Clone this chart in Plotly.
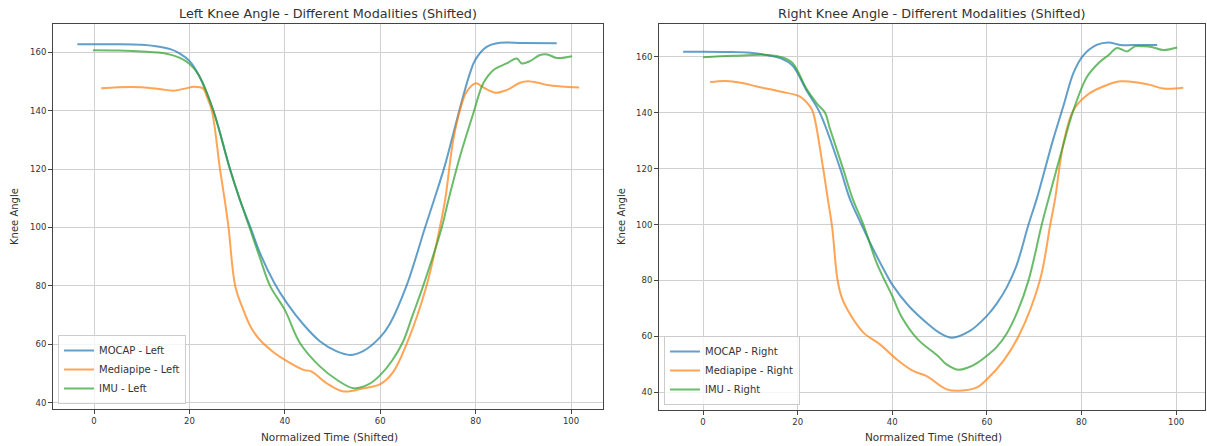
import plotly.graph_objects as go

# ---------------- Data ----------------
left_mocap_x = [-3.5, 0, 5, 10, 13, 16, 18, 20, 22, 25, 28.5, 30.6, 32.8, 34.8, 37.8, 40.4, 43.9, 47.4, 50.9, 53.7, 56.5, 60, 62, 65.5, 69.4, 71.5, 73.6, 75.3, 77.4, 78.8, 79.9, 82.3, 85.1, 90, 97]
left_mocap_y = [162.7, 162.7, 162.7, 162.5, 162, 161, 159.5, 157, 152, 140, 120, 109.4, 100, 91.2, 81, 74.2, 66.8, 61, 57.6, 56.4, 57.8, 62.5, 67, 80, 100, 110.5, 121.5, 132, 145, 152.7, 157.3, 161.8, 163.2, 163.1, 163]

left_mp_x = [1.5, 5, 10, 14, 16.6, 19, 21, 22.9, 23.6, 24.7, 26.4, 27.4, 28.2, 29.6, 31.3, 33, 34.8, 37.5, 40, 43.9, 45.6, 48.8, 52.3, 56.5, 60, 62.7, 65.5, 69.7, 72.5, 73.6, 75.3, 76.7, 78.1, 80.1, 81.6, 84.1, 86.5, 89.3, 91, 93.5, 95, 98, 101.7]
left_mp_y = [147.6, 148, 148, 147.3, 146.8, 147.5, 148.1, 147.5, 145, 140, 120, 109.4, 100, 80, 71.8, 65.5, 61.5, 57.5, 54.7, 51.3, 50.7, 46.7, 43.9, 45, 46.4, 50.5, 60, 80, 100, 109.4, 129.9, 140, 146.4, 149.3, 147.9, 146.1, 147, 149.5, 150, 149.3, 148.7, 148.2, 147.9]

left_imu_x = [-0.2, 5, 10, 15, 18, 20, 22, 25, 28.5, 30.6, 32.6, 34.8, 36.9, 40, 43.2, 47.4, 50.9, 54.4, 57.5, 60, 62.5, 64.8, 66.8, 69, 72.9, 74.3, 76.7, 79.5, 81.6, 83.7, 86.5, 88.6, 89.7, 91.5, 93.5, 95, 97, 100.2]
left_imu_y = [160.6, 160.5, 160.2, 159.5, 158, 156, 152, 140, 120, 109.4, 100, 89.5, 80, 71.8, 60.4, 52.4, 47.9, 45, 46.3, 49.5, 54.5, 61, 70, 80, 100, 109.4, 124.2, 139, 149.3, 153.8, 156.1, 157.8, 156.1, 157, 159, 159.2, 158, 158.6]

right_mocap_x = [-4.2, 0, 5, 10, 14, 16.7, 18.8, 19.8, 21.9, 24.7, 29, 31.1, 33.5, 35.3, 38.8, 40, 43.4, 47.6, 50, 52.6, 56.4, 60, 62, 64.2, 66.2, 68.8, 70.5, 74, 76.2, 78.3, 80.3, 83.2, 85.7, 88.2, 92.4, 96]
right_mocap_y = [161.9, 161.9, 161.8, 161.5, 160.5, 159.3, 157.1, 154.8, 148, 140, 120, 108.9, 100, 93.5, 82, 78.5, 71, 64.3, 61.2, 59.5, 61.9, 67.3, 71.5, 77.5, 85, 100, 109, 130.4, 142.6, 154.3, 160.4, 164.3, 165.2, 164.3, 164.3, 164.3]

right_mp_x = [1.5, 4.7, 8, 11.4, 16.3, 20.5, 22.6, 23.3, 25.4, 26.4, 27.3, 28.4, 29.3, 30.6, 33.9, 37.4, 40.9, 44.4, 47.2, 51.5, 54.3, 57.9, 60, 63.5, 66.7, 71.2, 73.4, 74.4, 76.2, 78.3, 81.2, 84.7, 88.2, 92.4, 94.5, 97.3, 101.5]
right_mp_y = [151, 151.4, 150.8, 149.4, 147.6, 145.8, 142.3, 140, 120, 108.9, 99, 80.5, 74, 69.3, 61.3, 57.1, 51.8, 47.6, 45.8, 41, 40.5, 41.7, 44.6, 51.2, 60, 80, 100, 109, 129.2, 141, 146.4, 149.5, 151.3, 150.7, 150, 148.7, 149]

right_imu_x = [0, 6.3, 13.5, 17, 19, 21.9, 24, 25.8, 26.8, 29.6, 31.7, 33.9, 36.7, 40, 41.9, 45.4, 49.6, 51.4, 53.9, 56, 58, 60, 62, 64.2, 66.5, 68.8, 71.6, 73, 75.5, 78.3, 81.2, 83.9, 85.6, 87.5, 89.6, 91.3, 93, 95, 97.3, 100.2]
right_imu_y = [159.9, 160.4, 160.7, 159.7, 157.7, 148.5, 143.5, 140, 134.5, 120, 108.9, 100, 86.3, 74.4, 67.2, 58.9, 53, 50, 48, 48.8, 50.5, 53, 56, 61, 69, 80, 100, 109, 124.5, 141, 153, 158.3, 160.5, 163.2, 162, 163.8, 163.8, 163.5, 162.5, 163.4]

names_left = ["MOCAP - Left", "Mediapipe - Left", "IMU - Left"]
names_right = ["MOCAP - Right", "Mediapipe - Right", "IMU - Right"]
titles = ["Left Knee Angle - Different Modalities (Shifted)", "Right Knee Angle - Different Modalities (Shifted)"]
x_title = "Normalized Time (Shifted)"
y_title = "Knee Angle"
tick_vals_x = [0, 20, 40, 60, 80, 100]
tick_vals_y = [40, 60, 80, 100, 120, 140, 160]

colors = ["#1f77b4", "#ff7f0e", "#2ca02c"]

# ---------------- Layout geometry ----------------
W, H = 1207, 446
def px_x(p):
    return p / W
def px_y(p):
    return 1 - p / H

FONT = "DejaVu Sans"
TXT = "#333333"

fig = go.Figure()

left_series = [(left_mocap_x, left_mocap_y), (left_mp_x, left_mp_y), (left_imu_x, left_imu_y)]
right_series = [(right_mocap_x, right_mocap_y), (right_mp_x, right_mp_y), (right_imu_x, right_imu_y)]

for i, (xs, ys) in enumerate(left_series):
    fig.add_trace(go.Scatter(x=xs, y=ys, mode="lines", name=names_left[i],
                             line=dict(color=colors[i], width=2, shape="spline", smoothing=1.0),
                             opacity=0.7, xaxis="x", yaxis="y", legend="legend"))
for i, (xs, ys) in enumerate(right_series):
    fig.add_trace(go.Scatter(x=xs, y=ys, mode="lines", name=names_right[i],
                             line=dict(color=colors[i], width=2, shape="spline", smoothing=1.0),
                             opacity=0.7, xaxis="x2", yaxis="y2", legend="legend2"))

axis_common = dict(showline=True, linecolor="#444444", linewidth=1, mirror=True,
                   ticks="outside", ticklen=4, tickcolor="#444444", tickwidth=1,
                   showgrid=True, gridcolor="#d0d0d0", gridwidth=1, zeroline=False,
                   tickfont=dict(family=FONT, size=8.5, color=TXT))

legend_common = dict(xanchor="left", yanchor="bottom",
                     bgcolor="rgba(255,255,255,0.8)", bordercolor="#cccccc", borderwidth=1,
                     font=dict(family=FONT, size=10, color=TXT), itemwidth=30,
                     tracegroupgap=0)

fig.update_layout(
    width=W, height=H,
    margin=dict(l=0, r=0, t=0, b=0),
    paper_bgcolor="white", plot_bgcolor="white",
    font=dict(family=FONT, color=TXT),
    xaxis=dict(domain=[px_x(53), px_x(603)], range=[-8.6, 106.7], anchor="y",
               tickvals=tick_vals_x, **axis_common),
    yaxis=dict(domain=[px_y(409), px_y(24)], range=[37.9, 169.6], anchor="x",
               tickvals=tick_vals_y, **axis_common),
    xaxis2=dict(domain=[px_x(659), px_x(1205)], range=[-9.3, 106.1], anchor="y2",
                tickvals=tick_vals_x, **axis_common),
    yaxis2=dict(domain=[px_y(410), px_y(24)], range=[33.6, 171.8], anchor="x2",
                tickvals=tick_vals_y, **axis_common),
    legend=dict(x=px_x(58), y=px_y(404), **legend_common),
    legend2=dict(x=px_x(664), y=px_y(405), **legend_common),
    showlegend=True,
)

annotations = [
    dict(text=titles[0], x=px_x(328), y=px_y(14), xref="paper", yref="paper",
         xanchor="center", yanchor="middle", showarrow=False,
         font=dict(family=FONT, size=12.8, color=TXT)),
    dict(text=titles[1], x=px_x(932), y=px_y(14), xref="paper", yref="paper",
         xanchor="center", yanchor="middle", showarrow=False,
         font=dict(family=FONT, size=12.8, color=TXT)),
    dict(text=x_title, x=px_x(329), y=px_y(437), xref="paper", yref="paper",
         xanchor="center", yanchor="middle", showarrow=False,
         font=dict(family=FONT, size=10.5, color=TXT)),
    dict(text=x_title, x=px_x(933), y=px_y(437), xref="paper", yref="paper",
         xanchor="center", yanchor="middle", showarrow=False,
         font=dict(family=FONT, size=10.5, color=TXT)),
    dict(text=y_title, x=px_x(15), y=px_y(217), xref="paper", yref="paper",
         xanchor="center", yanchor="middle", showarrow=False, textangle=-90,
         font=dict(family=FONT, size=10, color=TXT)),
    dict(text=y_title, x=px_x(622), y=px_y(217), xref="paper", yref="paper",
         xanchor="center", yanchor="middle", showarrow=False, textangle=-90,
         font=dict(family=FONT, size=10, color=TXT)),
]
fig.update_layout(annotations=annotations)

fig.write_html("out.html", config={"displayModeBar": False},
               post_script="document.body.style.margin='0px';document.body.style.overflow='hidden';")
